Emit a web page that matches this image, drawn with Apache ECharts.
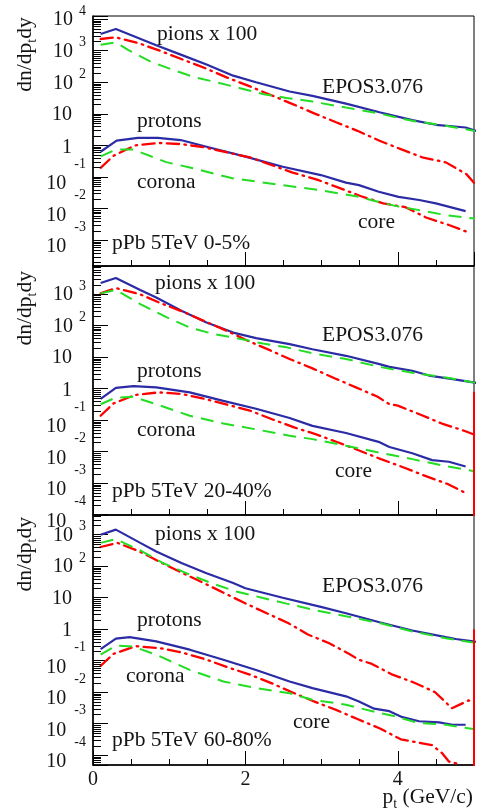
<!DOCTYPE html>
<html>
<head>
<meta charset="utf-8">
<script src="https://cdn.jsdelivr.net/npm/echarts@6/dist/echarts.min.js"></script>
<style>
  html, body { margin: 0; padding: 0; background: #fff; }
  #chart { width: 484px; height: 812px; }
</style>
</head>
<body>
<div id="chart"></div>
<script>
// ---- data: [pt, dn/dpt dy] ----
// panel 1: pPb 5TeV 0-5%
const p1PionTot = [[0.1,3400],[0.3,4900],[0.83,1500],[1.16,740],[1.49,365],[1.84,162],[2.14,100],[2.58,51],[2.88,37],[3.32,21],[3.76,11.2],[4.19,6.3],[4.5,4.5],[4.89,3.7],[5.1,2.5]]
const p1PionCore = [[0.1,2350],[0.3,2650],[0.61,1700],[0.9,955],[1.2,500],[1.48,275],[1.76,141],[2.06,74],[2.34,39],[2.62,20.4],[2.91,10.2],[3.19,5.4],[3.47,2.9],[3.76,1.41],[4.04,0.76],[4.32,0.42],[4.63,0.29],[4.9,0.123],[5.0,0.066]]
const p1PionCorona = [[0.1,1550],[0.3,1820],[0.46,1070],[0.75,460],[1.03,257],[1.32,148],[1.62,100],[1.93,65],[2.24,42],[2.54,32],[2.88,24.5],[3.32,15.8],[3.76,10.2],[4.19,6.0],[4.63,4.2],[5.0,2.9],[5.1,2.6]]
const p1ProtTot = [[0.1,0.63],[0.31,1.41],[0.59,1.74],[0.85,1.74],[1.15,1.48],[1.49,0.91],[2.0,0.44],[2.49,0.21],[2.99,0.115],[3.32,0.066],[3.49,0.055],[3.75,0.034],[4.01,0.0234],[4.28,0.0186],[4.5,0.0145],[4.89,0.0083]]
const p1ProtCore = [[0.1,0.195],[0.27,0.47],[0.55,1.0],[0.86,1.2],[1.16,1.1],[1.46,0.87],[1.77,0.59],[2.06,0.42],[2.34,0.24],[2.62,0.138],[2.95,0.081],[3.23,0.045],[3.51,0.025],[3.81,0.0145],[4.1,0.011],[4.37,0.0052],[4.67,0.003],[4.92,0.00178]]
const p1ProtCorona = [[0.1,0.45],[0.3,0.74],[0.53,0.74],[0.96,0.295],[1.27,0.2],[1.83,0.091],[2.49,0.055],[2.99,0.038],[3.49,0.0234],[3.76,0.0158],[4.01,0.0115],[4.28,0.0089],[4.63,0.0062],[4.98,0.0049],[5.1,0.0045]]

// panel 2: pPb 5TeV 20-40%
const p2PionTot = [[0.1,2240],[0.3,3240],[0.62,1350],[0.83,776],[1.16,295],[1.49,126],[1.84,60],[2.14,40],[2.58,25.7],[2.88,17.8],[3.32,11],[3.76,6.0],[3.89,4.9],[4.19,3.7],[4.41,2.6],[4.72,2.0],[4.99,1.58],[5.1,1.41]]
const p2PionCore = [[0.1,1050],[0.3,1550],[0.61,1000],[0.9,500],[1.2,263],[1.47,135],[1.75,69],[2.03,33],[2.32,16.6],[2.58,8.7],[2.88,4.4],[3.17,2.14],[3.45,1.1],[3.73,0.56],[3.89,0.32],[4.0,0.29],[4.3,0.148],[4.58,0.078],[4.87,0.046],[5.0,0.035]]
const p2PionCorona = [[0.1,1050],[0.3,1350],[0.62,480],[0.97,182],[1.27,87],[1.58,54],[1.88,40],[2.23,27],[2.54,20.4],[2.88,13.2],[3.32,8.7],[3.76,4.9],[4.19,3.2],[4.63,2.24],[4.99,1.58],[5.1,1.41]]
const p2ProtTot = [[0.1,0.47],[0.3,1.05],[0.53,1.2],[0.83,1.1],[1.27,0.76],[1.71,0.41],[2.14,0.23],[2.58,0.117],[2.88,0.066],[3.32,0.039],[3.76,0.02],[3.89,0.0141],[4.19,0.0089],[4.45,0.0054],[4.67,0.0048],[4.89,0.0034]]
const p2ProtCore = [[0.1,0.138],[0.27,0.34],[0.55,0.63],[0.86,0.76],[1.16,0.68],[1.47,0.47],[1.76,0.31],[2.06,0.2],[2.35,0.107],[2.64,0.059],[2.92,0.036],[3.22,0.0195],[3.5,0.0107],[3.78,0.0058],[4.07,0.0032],[4.36,0.0017],[4.66,0.00093],[4.92,0.00045]]
const p2ProtCorona = [[0.1,0.32],[0.3,0.52],[0.53,0.55],[0.83,0.32],[1.27,0.138],[1.71,0.078],[2.14,0.051],[2.58,0.032],[2.88,0.025],[3.32,0.0155],[3.76,0.0093],[4.19,0.0058],[4.63,0.0035],[4.99,0.00245],[5.1,0.0022]]
const p2Edge = [[5.0,0.8],[5.0,1e-7]]

// panel 3: pPb 5TeV 60-80%
const p3PionTot = [[0.1,1000],[0.3,1450],[0.62,550],[0.83,295],[1.16,126],[1.49,60],[1.84,29.5],[2.0,20],[2.49,10],[2.99,5.1],[3.32,3.2],[3.76,1.66],[4.19,0.91],[4.63,0.56],[4.76,0.49],[4.99,0.41],[5.1,0.38]]
const p3PionCore = [[0.1,407],[0.32,550],[0.61,295],[0.89,132],[1.16,63],[1.45,29.5],[1.72,14.1],[1.99,6.8],[2.28,3.2],[2.56,1.58],[2.82,0.68],[3.1,0.36],[3.38,0.155],[3.49,0.107],[3.66,0.079],[3.93,0.036],[4.21,0.0204],[4.49,0.01],[4.71,0.0031],[4.93,0.0055],[5.0,0.0051]]
const p3PionCorona = [[0.1,550],[0.3,725],[0.62,316],[0.92,126],[1.27,54],[1.58,27.5],[1.88,15.8],[2.23,9.8],[2.54,6.5],[2.88,4.2],[3.32,2.57],[3.76,1.58],[4.19,0.85],[4.63,0.52],[4.99,0.38],[5.1,0.35]]
const p3ProtTot = [[0.1,0.234],[0.3,0.5],[0.48,0.56],[0.83,0.41],[1.27,0.224],[1.71,0.107],[2.14,0.051],[2.58,0.022],[2.88,0.0135],[3.32,0.0074],[3.49,0.0051],[3.69,0.003],[3.89,0.0025],[4.06,0.00162],[4.28,0.0012],[4.54,0.0011],[4.72,0.00093],[4.89,0.00093]]
const p3ProtCore = [[0.1,0.069],[0.27,0.166],[0.56,0.29],[0.88,0.25],[1.17,0.182],[1.47,0.112],[1.76,0.063],[2.06,0.036],[2.34,0.0195],[2.62,0.0098],[2.9,0.0051],[3.19,0.00275],[3.47,0.00141],[3.76,0.00072],[4.04,0.00032],[4.32,0.00024],[4.45,0.00021],[4.58,0.000117],[4.67,0.000063],[4.78,0.000054],[4.9,0.000001]]
const p3ProtCorona = [[0.1,0.155],[0.3,0.3],[0.53,0.28],[0.83,0.155],[1.27,0.051],[1.71,0.022],[2.14,0.0135],[2.58,0.0093],[2.88,0.0058],[3.32,0.004],[3.76,0.0022],[3.97,0.0017],[4.28,0.00105],[4.63,0.00093],[4.99,0.00068],[5.1,0.00062]]
const p3Edge = [[5.0,1.0],[5.0,1e-7]]

const centralities = ['pPb 5TeV 0-5%', 'pPb 5TeV 20-40%', 'pPb 5TeV 60-80%']
const yRanges = [[1.51e-4, 1.26e4], [9.8e-5, 7760], [4.9e-5, 4220]]
const xTickLabels = [0, 2, 4]

// ---- layout / style ----
const FONT = '"Liberation Serif", "Times New Roman", serif'
const INK = '#141414'
const BLUE = '#2b2ba5'
const RED = '#ff0000'
const GREEN = '#22dd22'
const gridTops = [16, 266, 515]
const gridHeights = [250, 249, 250]

const panels = [
  { curves: [p1PionTot, p1PionCore, p1PionCorona, p1ProtTot, p1ProtCore, p1ProtCorona], edge: null,
    text: { pions: [157, 34.5], epos: [322, 87], protons: [137, 121.5], corona: [137, 182.5], core: [358, 222], cent: [112, 243], ytitle: 54.5 } },
  { curves: [p2PionTot, p2PionCore, p2PionCorona, p2ProtTot, p2ProtCore, p2ProtCorona], edge: p2Edge,
    text: { pions: [155, 283.5], epos: [322, 335], protons: [137, 371.5], corona: [137, 430], core: [335, 471], cent: [112, 491], ytitle: 308.3 } },
  { curves: [p3PionTot, p3PionCore, p3PionCorona, p3ProtTot, p3ProtCore, p3ProtCorona], edge: p3Edge,
    text: { pions: [155, 534], epos: [322, 586], protons: [137, 620.5], corona: [126, 676.5], core: [293, 722], cent: [112, 740], ytitle: 554.2 } }
]

// solid = core+corona, dash-dot = core, dashed = corona
const styles = [
  { color: BLUE, width: 2.2, type: 'solid' },
  { color: RED, width: 2.3, type: [12.2, 5.4, 1.5, 5.4], cap: 'round' },
  { color: GREEN, width: 2, type: [13, 8] }
]

function expLabel(v) {
  const e = Math.log10(v)
  const n = Math.round(e)
  if (Math.abs(e - n) > 0.02) return ''
  if (n === 0) return '{one|1}'
  if (n === 1) return '{ten|10}'
  if (n > 1) return '{b|10}{e|' + n + '}'
  return '{bn|10}{en|' + n + '}'
}

const tok = (size, padding) => ({ fontSize: size, fontFamily: FONT, color: INK, padding: padding, verticalAlign: 'top' })
const yRich = {
  b: tok(20, [11, 0, 9, 0]),
  e: tok(14, [5, 0, 21, 6]),
  bn: tok(20, [17, 0, 3, 0]),
  en: tok(14, [0, 0, 26, 8]),
  ten: tok(20, [11, 14, 9, 0]),
  one: tok(20, [12, 14, 8, 0])
}

function minorTicks(range) {
  const out = []
  for (let n = -6; n <= 5; n++) {
    for (let k = 2; k <= 9; k++) {
      const v = k * Math.pow(10, n)
      if (v > range[0] && v < range[1]) out.push([0, v])
    }
  }
  return out
}

const grid = []
const xAxis = []
const yAxis = []
const series = []
const graphic = []

panels.forEach((panel, i) => {
  grid.push({
    left: 93, top: gridTops[i], width: 381, height: gridHeights[i],
    show: true, borderColor: '#000', borderWidth: 1, backgroundColor: 'transparent',
    outerBoundsMode: 'none'
  })

  // minor x ticks every 0.5
  xAxis.push({
    type: 'value', gridIndex: i, min: 0, max: 5, interval: 0.5, position: 'bottom',
    axisLine: { show: true, onZero: false, lineStyle: { color: '#000', width: 1.5 } },
    axisTick: { inside: true, length: 6, lineStyle: { color: '#000', width: 1 } },
    axisLabel: { show: false },
    splitLine: { show: false }
  })
  // major x ticks + labels
  xAxis.push({
    type: 'value', gridIndex: i, min: 0, max: 5, interval: 2, position: 'bottom',
    axisLine: { show: false },
    axisTick: { inside: true, length: 14, lineStyle: { color: '#000', width: 1 } },
    axisLabel: {
      show: i === 2, margin: 5, fontSize: 20, fontFamily: FONT, color: INK,
      showMaxLabel: false,
      formatter: v => (xTickLabels.indexOf(v) >= 0 ? String(v) : '')
    },
    splitLine: { show: false }
  })

  yAxis.push({
    type: 'log', logBase: 10, gridIndex: i, min: yRanges[i][0], max: yRanges[i][1], splitNumber: 8,
    position: 'left',
    axisLine: { show: true, onZero: false, lineStyle: { color: '#000', width: 1.5 } },
    axisTick: { inside: true, length: 15, lineStyle: { color: '#000', width: 1 } },
    axisLabel: { margin: 7, formatter: expLabel, rich: yRich },
    splitLine: { show: false },
    minorTick: { show: false }
  })

  // log minor ticks (2..9 x 10^n)
  series.push({
    type: 'custom', xAxisIndex: 2 * i, yAxisIndex: i, silent: true, z: 4,
    data: minorTicks(yRanges[i]),
    renderItem: (params, api) => {
      const p = api.coord([0, api.value(1)])
      const y = Math.round(p[1]) + 0.5
      return { type: 'line', shape: { x1: p[0], y1: y, x2: p[0] + 8, y2: y }, style: { stroke: '#000', lineWidth: 1 } }
    }
  })

  // draw order: total, core, corona (pions then protons)
  const order = [0, 3, 1, 4, 2, 5]
  order.forEach(k => {
    const st = styles[k % 3]
    series.push({
      type: 'line', xAxisIndex: 2 * i, yAxisIndex: i, data: panel.curves[k],
      showSymbol: false, symbol: 'none', silent: true, clip: true, z: 3,
      lineStyle: { color: st.color, width: st.width, type: st.type, cap: st.cap || 'butt' }
    })
  })
  if (panel.edge) {
    series.push({
      type: 'line', xAxisIndex: 2 * i, yAxisIndex: i, data: panel.edge,
      showSymbol: false, symbol: 'none', silent: true, clip: true, z: 3,
      lineStyle: { color: RED, width: 2 }
    })
  }

  const t = panel.text
  const label = (pos, text) => ({
    type: 'text', x: pos[0], y: pos[1], silent: true,
    style: { text: text, fill: INK, font: '21.5px ' + FONT, textAlign: 'left', align: 'left', textVerticalAlign: 'middle', verticalAlign: 'middle' }
  })
  graphic.push(label(t.pions, 'pions x 100'))
  graphic.push(label(t.epos, 'EPOS3.076'))
  graphic.push(label(t.protons, 'protons'))
  graphic.push(label(t.corona, 'corona'))
  graphic.push(label(t.core, 'core'))
  graphic.push(label(t.cent, centralities[i]))

  // y-axis title
  graphic.push({
    type: 'text', x: 28.4, y: t.ytitle, rotation: Math.PI / 2, silent: true,
    style: {
      text: '{a|dn/dp}{s|t}{a|dy}',
      textAlign: 'center', align: 'center', textVerticalAlign: 'middle', verticalAlign: 'middle',
      rich: {
        a: { fontSize: 21.5, fontFamily: FONT, fill: INK, padding: [0, 0, 6, 0], verticalAlign: 'top' },
        s: { fontSize: 14, fontFamily: FONT, fill: INK, padding: [11, 0, 0, 0], verticalAlign: 'top' }
      }
    }
  })
})

// x-axis title
graphic.push({
  type: 'text', x: 473, y: 800, silent: true,
  style: {
    text: '{a|p}{s|t}{a| (GeV/c)}',
    textAlign: 'right', align: 'right', textVerticalAlign: 'middle', verticalAlign: 'middle',
    rich: {
      a: { fontSize: 21.5, fontFamily: FONT, fill: INK, padding: [0, 0, 6, 0], verticalAlign: 'top' },
      s: { fontSize: 14, fontFamily: FONT, fill: INK, padding: [11, 0, 0, 0], verticalAlign: 'top' }
    }
  }
})

const chart = echarts.init(document.getElementById('chart'), null, { renderer: 'canvas' })
chart.setOption({
  animation: false,
  backgroundColor: '#fff',
  textStyle: { fontFamily: FONT },
  grid: grid,
  xAxis: xAxis,
  yAxis: yAxis,
  series: series,
  graphic: graphic
})
</script>
</body>
</html>
